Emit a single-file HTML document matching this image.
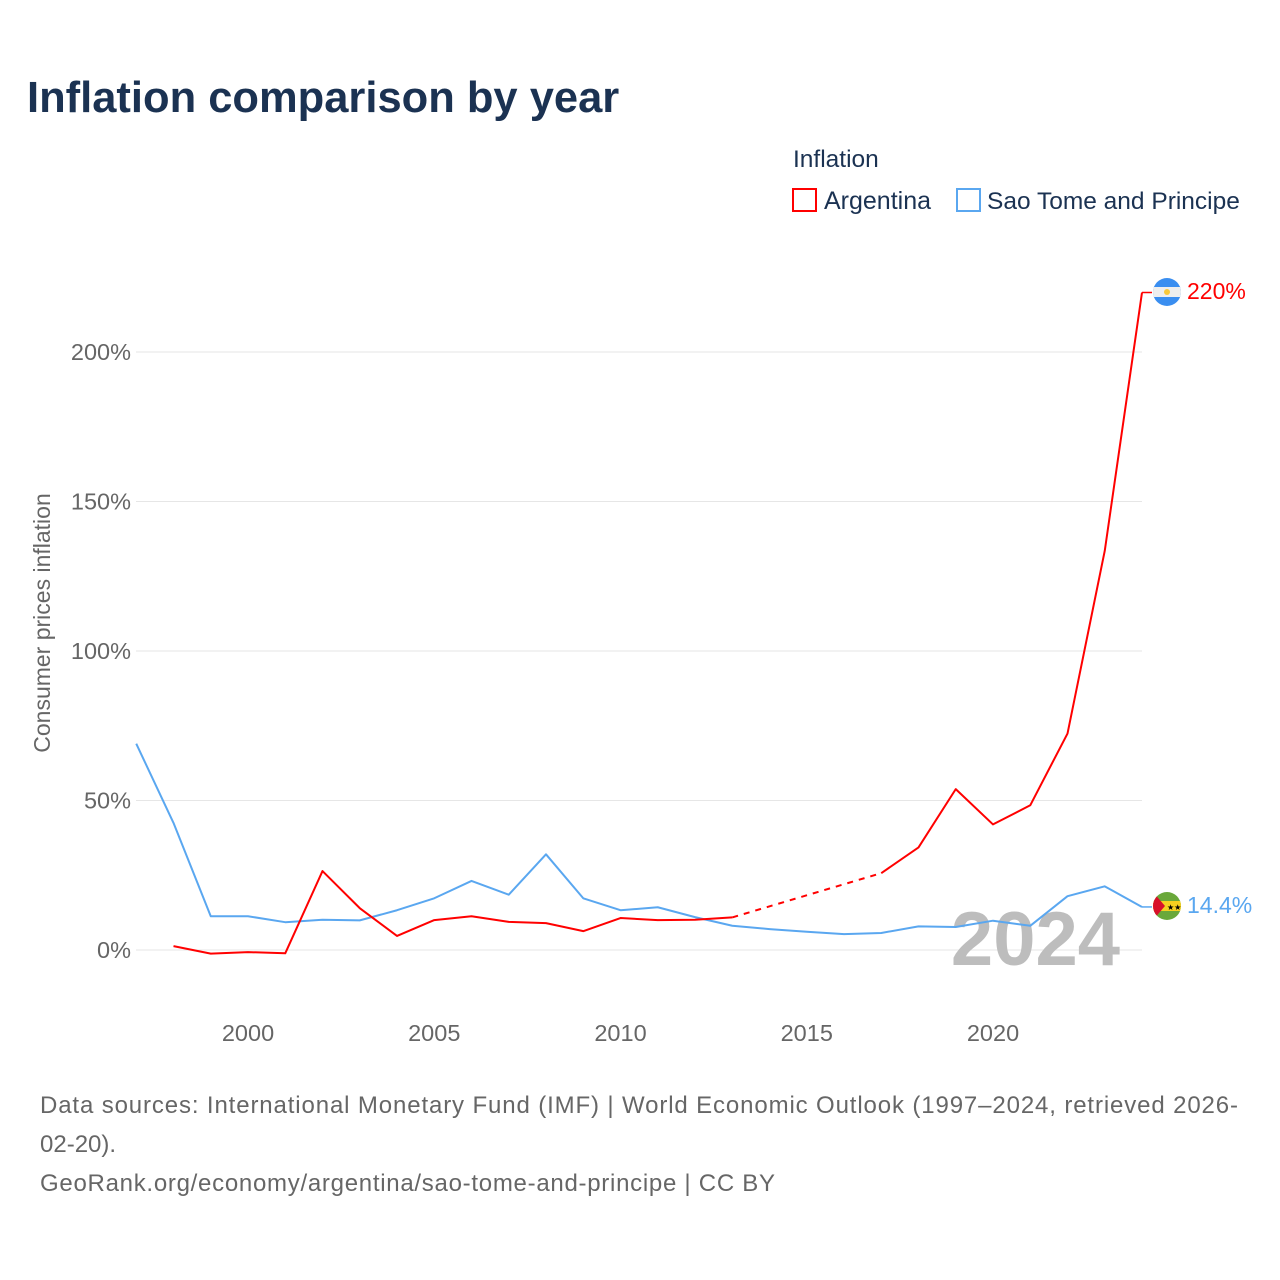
<!DOCTYPE html>
<html><head><meta charset="utf-8"><style>
body{margin:0;background:#fff;font-family:"Liberation Sans",sans-serif;}
</style></head><body>
<svg width="1280" height="1280" xmlns="http://www.w3.org/2000/svg" style="display:block">
<text x="27" y="112" font-size="43.5" font-weight="bold" fill="#1b3252">Inflation comparison by year</text>
<text x="793" y="167" font-size="24.5" fill="#1b3252">Inflation</text>
<g><rect x="793" y="189" width="23" height="22" fill="none" stroke="#ff0000" stroke-width="2"/><text x="824" y="209" font-size="25" fill="#1b3252">Argentina</text></g>
<g><rect x="957" y="189" width="23" height="22" fill="none" stroke="#5aa7f0" stroke-width="2"/><text x="987" y="209" font-size="24.5" fill="#1b3252">Sao Tome and Principe</text></g>
<text transform="translate(50,623) rotate(-90)" text-anchor="middle" font-size="23" fill="#666">Consumer prices inflation</text>
<g id="grid"></g>
<text x="1120" y="965" text-anchor="end" font-size="76" font-weight="bold" fill="#bdbdbd">2024</text>
<g id="lines"></g>
<g>
<clipPath id="ca"><circle cx="1167" cy="292" r="14"/></clipPath>
<g clip-path="url(#ca)"><rect x="1153" y="278" width="28" height="28" fill="#3a8ef0"/><rect x="1153" y="287" width="28" height="10" fill="#eee"/><circle cx="1167" cy="292" r="3" fill="#f8c83a"/></g></g>
<g>
<clipPath id="cs"><circle cx="1167" cy="906" r="14"/></clipPath>
<g clip-path="url(#cs)"><rect x="1153" y="892" width="28" height="28" fill="#6aa83a"/><rect x="1153" y="901" width="28" height="10" fill="#f5d020"/><polygon points="1153,892 1165,906 1153,920" fill="#d8102a"/><text x="1167" y="910" font-size="8" fill="#000">★★</text></g></g>
<text x="1187" y="299" font-size="23" fill="#ff0000">220%</text>
<text x="1187" y="913" font-size="23" fill="#5aa7f0">14.4%</text>
<text x="40" y="1113" font-size="24" fill="#666" textLength="1198" lengthAdjust="spacing">Data sources: International Monetary Fund (IMF) | World Economic Outlook (1997–2024, retrieved 2026-</text>
<text x="40" y="1152" font-size="24" fill="#666">02-20).</text>
<text x="40" y="1191" font-size="24" fill="#666" textLength="735" lengthAdjust="spacing">GeoRank.org/economy/argentina/sao-tome-and-principe | CC BY</text>
</svg>
<script>
const years=[1997,1998,1999,2000,2001,2002,2003,2004,2005,2006,2007,2008,2009,2010,2011,2012,2013,2014,2015,2016,2017,2018,2019,2020,2021,2022,2023,2024];
const argentina=[null,1.3,-1.2,-0.7,-1.1,26.4,14,4.7,10,11.3,9.4,9.0,6.3,10.7,10,10.1,10.9,null,null,null,25.7,34.3,53.8,42,48.4,72.4,133.5,219.9];
const saoTome=[69,42.5,11.3,11.3,9.3,10.1,9.9,13.3,17.3,23.1,18.5,32,17.3,13.3,14.3,11,8.1,7,6.1,5.3,5.7,7.9,7.7,9.8,8.1,18,21.3,14.4];
const yTicks=[0,50,100,150,200];
const xTicks=[2000,2005,2010,2015,2020];
const NS="http://www.w3.org/2000/svg";
const x=v=>136.25+(v-1997)*37.25;
const y=v=>950-v*2.99;
function mk(tag,attrs,parent){const e=document.createElementNS(NS,tag);for(const k in attrs)e.setAttribute(k,attrs[k]);parent.appendChild(e);return e;}
const grid=document.getElementById('grid');
yTicks.forEach(t=>{
 const l=mk('line',{x1:136,x2:1142,y1:y(t),y2:y(t),stroke:'#e6e6e6','stroke-width':1},grid);
 
 
 const tx=mk('text',{x:131,y:y(t)+8,'text-anchor':'end','font-size':23.5,fill:'#666'},grid);
 tx.textContent=t+'%';
 
 
});
xTicks.forEach(t=>{
 const tx=mk('text',{x:x(t),y:1041,'text-anchor':'middle','font-size':23.5,fill:'#666'},grid);
 tx.textContent=t;
 
 
});
const lines=document.getElementById('lines');
function draw(vals,color,name){
 let segs=[],cur=[],prev=null;const gaps=[];
 vals.forEach((v,i)=>{
  if(v===null){if(cur.length){segs.push(cur);cur=[];}return;}
  if(prev!==null && prev<i-1 && vals[prev]!==null) gaps.push([prev,i]);
  cur.push([x(years[i]),y(v)]);prev=i;
 });
 if(cur.length)segs.push(cur);
 segs.forEach((s,k)=>{
  const p=mk('polyline',{points:s.map(q=>q.join(',')).join(' '),fill:'none',stroke:color,'stroke-width':2,'stroke-linejoin':'round'},lines);
  
  
 });
 gaps.forEach(([a,b])=>{
  const p=mk('line',{x1:x(years[a]),y1:y(vals[a]),x2:x(years[b]),y2:y(vals[b]),stroke:color,'stroke-width':2,'stroke-dasharray':'6,6'},lines);
  
  
 });
}
draw(saoTome,'#5aa7f0','sao-tome');
draw(argentina,'#ff0000','argentina');
const li=years.length-1;
const e1=mk('line',{x1:x(years[li]),y1:y(argentina[li]),x2:1152,y2:y(argentina[li]),stroke:'#ff0000','stroke-width':1.5},lines);


const e2=mk('line',{x1:x(years[li]),y1:y(saoTome[li]),x2:1152,y2:y(saoTome[li]),stroke:'#5aa7f0','stroke-width':1.5},lines);


</script>
</body></html>
